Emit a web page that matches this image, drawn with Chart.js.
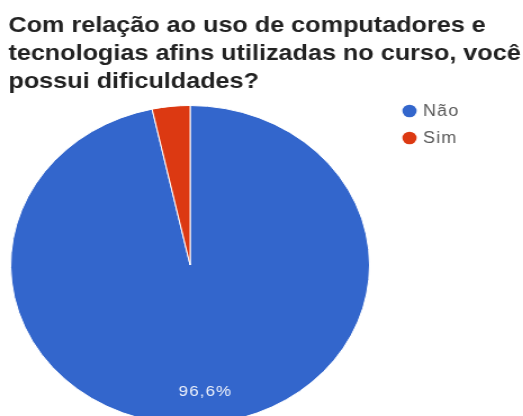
<!DOCTYPE html>
<html>
<head>
<meta charset="utf-8">
<script src="https://cdn.jsdelivr.net/npm/chart.js@4/dist/chart.umd.min.js"></script>
<style>
  html, body { margin: 0; padding: 0; background: #fff; overflow: hidden; width: 523px; height: 416px; }
  #wrap { position: relative; width: 523px; height: 416px; overflow: hidden; }
  /* the whole drawing is widened horizontally */
  #c { display: block; transform: scaleX(1.125); transform-origin: 0 0; }
</style>
</head>
<body>
<div id="wrap"><canvas id="c" width="465" height="430"></canvas></div>
<script>
const titleLines = [
  'Com relação ao uso de computadores e',
  'tecnologias afins utilizadas no curso, você',
  'possui dificuldades?'
];
const categories = ['Não', 'Sim'];
const shares = [96.6, 3.4];
const sliceColors = ['#3366cc', '#dc3912'];

// Title text, drawn above the pie
const titlePlugin = {
  id: 'titleText',
  afterDraw(chart) {
    const ctx = chart.ctx;
    ctx.save();
    ctx.fillStyle = '#222222';
    ctx.font = 'bold 22.4px "Liberation Sans", Arial, sans-serif';
    ctx.textBaseline = 'alphabetic';
    ctx.textAlign = 'left';
    titleLines.forEach((line, i) => ctx.fillText(line, 7.5, 31.5 + i * 28));
    ctx.restore();
  }
};

// Legend with round markers to the right of the pie
const legendPlugin = {
  id: 'sideLegend',
  afterDraw(chart) {
    const ctx = chart.ctx;
    const ds = chart.data.datasets[0];
    ctx.save();
    ctx.font = '16px "Liberation Sans", Arial, sans-serif';
    ctx.letterSpacing = '1px';
    ctx.textBaseline = 'middle';
    chart.data.labels.forEach((lab, i) => {
      const y = 111 + i * 27;
      ctx.fillStyle = ds.backgroundColor[i];
      ctx.beginPath();
      ctx.arc(364, y, 6.3, 0, Math.PI * 2);
      ctx.fill();
      ctx.fillStyle = '#5a5a5a';
      ctx.fillText(lab, 376, y + 0.5);
    });
    ctx.restore();
  }
};

// Percentage labels inside slices large enough to hold them
const sliceLabelPlugin = {
  id: 'sliceLabels',
  afterDatasetsDraw(chart) {
    const ctx = chart.ctx;
    const meta = chart.getDatasetMeta(0);
    const values = chart.data.datasets[0].data;
    ctx.save();
    ctx.font = '15px "Liberation Sans", Arial, sans-serif';
    ctx.letterSpacing = '1px';
    ctx.fillStyle = '#eef2fb';
    ctx.textAlign = 'center';
    ctx.textBaseline = 'middle';
    meta.data.forEach((arc, i) => {
      if (values[i] < 5) return;
      const p = arc.getProps(['x', 'y', 'startAngle', 'endAngle', 'outerRadius'], true);
      const mid = (p.startAngle + p.endAngle) / 2;
      const r = p.outerRadius * 0.8;
      ctx.fillText(values[i].toFixed(1).replace('.', ',') + '%', p.x + Math.cos(mid) * r, p.y + Math.sin(mid) * r);
    });
    ctx.restore();
  }
};

new Chart(document.getElementById('c'), {
  type: 'pie',
  data: {
    labels: categories,
    datasets: [{
      data: shares,
      backgroundColor: sliceColors,
      borderColor: '#ffffff',
      borderWidth: 1
    }]
  },
  options: {
    responsive: false,
    animation: false,
    layout: { padding: { left: 9, right: 136, top: 105, bottom: 5 } },
    plugins: {
      legend: { display: false },
      tooltip: { enabled: false },
      title: { display: false }
    }
  },
  plugins: [titlePlugin, legendPlugin, sliceLabelPlugin]
});
</script>
</body>
</html>
